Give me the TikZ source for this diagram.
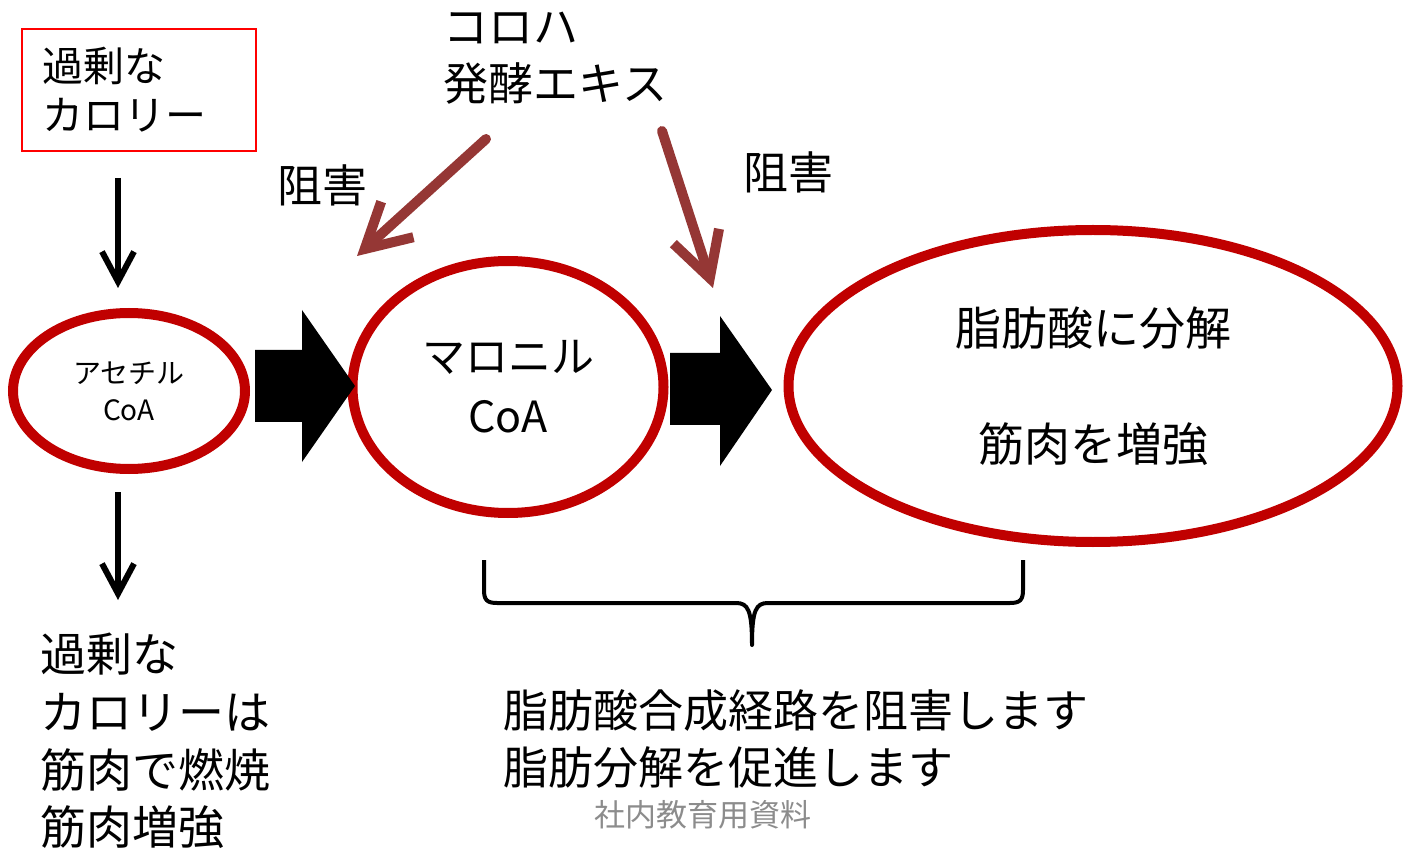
\documentclass[tikz,border=0pt]{standalone}
\usepackage{fontspec}
\setmainfont{Noto Sans CJK JP}
\usetikzlibrary{shapes.geometric,arrows.meta}
\definecolor{ringred}{HTML}{C00000}
\definecolor{brownred}{HTML}{953735}
\definecolor{wmgray}{HTML}{8C8C8C}
\tikzset{
  ring/.style={ellipse, draw=ringred, line width=5pt, inner sep=0pt, align=center},
  thinarrow/.style={line width=3pt, -{Straight Barb[length=15pt,width=16pt,line width=3pt]}},
  brownarrow/.style={draw=brownred, line width=5pt, line cap=round, -{Straight Barb[length=22pt,width=24pt,line width=5pt]}},
  blockarrow/.style={fill=black},
  txt/.style={inner sep=0pt, align=left, anchor=west},
}
\begin{document}
\begin{tikzpicture}[x=0.5pt,y=-0.5pt]
\useasboundingbox (0,0) rectangle (1404,850);

% top-left box
\node (box) [draw=red, line width=1pt, inner xsep=10pt, inner ysep=0pt, text width=97pt, minimum height=61pt, align=left,
  font=\fontsize{20.5}{24.5}\selectfont] at (139,90) {過剰な\\カロリー};

% rings
\node (acetyl) [ring, minimum width=116pt, minimum height=78pt, font=\fontsize{14}{18.5}\selectfont] at (129,391) {アセチル\\CoA};
\node (malonyl) [ring, minimum width=155.5pt, minimum height=126pt, font=\fontsize{21.5}{30}\selectfont] at (508,387) {マロニル\\CoA};
\node (fat) [ring, minimum width=304.5pt, minimum height=156pt, font=\fontsize{23}{58}\selectfont] at (1093,386) {脂肪酸に分解\\筋肉を増強};

% block arrows
\path[blockarrow] (255,350) -- (302,350) -- (302,310) -- (355,386) -- (302,462) -- (302,422) -- (255,422) -- cycle;
\path[blockarrow] (670,353) -- (720,353) -- (720,316) -- (772,390) -- (720,466) -- (720,425) -- (670,425) -- cycle;

% thin arrows
\coordinate (a1s) at (118,178);
\coordinate (a1e) at (118,288);
\coordinate (a2s) at (118,492);
\coordinate (a2e) at (118,600);
\draw[thinarrow] (a1s) -- (a1e);
\draw[thinarrow] (a2s) -- (a2e);

% koroha text
\node (koroha) [txt, font=\fontsize{22.5}{28.5}\selectfont] at (443,58) {コロハ\\発酵エキス};

% brown arrows
\coordinate (b1s) at (486,139);
\coordinate (b1e) at (357,256);
\coordinate (b2s) at (662,131);
\coordinate (b2e) at (713,288);
\draw[brownarrow] (b1s) -- (b1e);
\draw[brownarrow] (b2s) -- (b2e);

% inhibit labels
\node (inh1) [inner sep=0pt, font=\fontsize{22.5}{28}\selectfont] at (322,185) {阻害};
\node (inh2) [inner sep=0pt, font=\fontsize{22.5}{28}\selectfont] at (788,172) {阻害};

% brace
\draw[line width=2pt, line join=round] (484,560) -- (484,590) .. controls (484,600) and (487,603) .. (497,603)
  -- (736,603) .. controls (748,603) and (752,610) .. (752,645)
  .. controls (752,610) and (756,603) .. (768,603)
  -- (1010,603) .. controls (1020,603) and (1023,600) .. (1023,590) -- (1023,560);

% bottom texts
\node (sum) [txt, font=\fontsize{22.5}{28.5}\selectfont] at (503,738.5) {脂肪酸合成経路を阻害します\\脂肪分解を促進します};
\node (left) [txt, font=\fontsize{23}{28.8}\selectfont] at (40,741) {過剰な\\カロリーは\\筋肉で燃焼\\筋肉増強};
\node (wm) [inner sep=0pt, text=wmgray, font=\fontsize{15.5}{18}\selectfont] at (703,815) {社内教育用資料};
\end{tikzpicture}
\end{document}
